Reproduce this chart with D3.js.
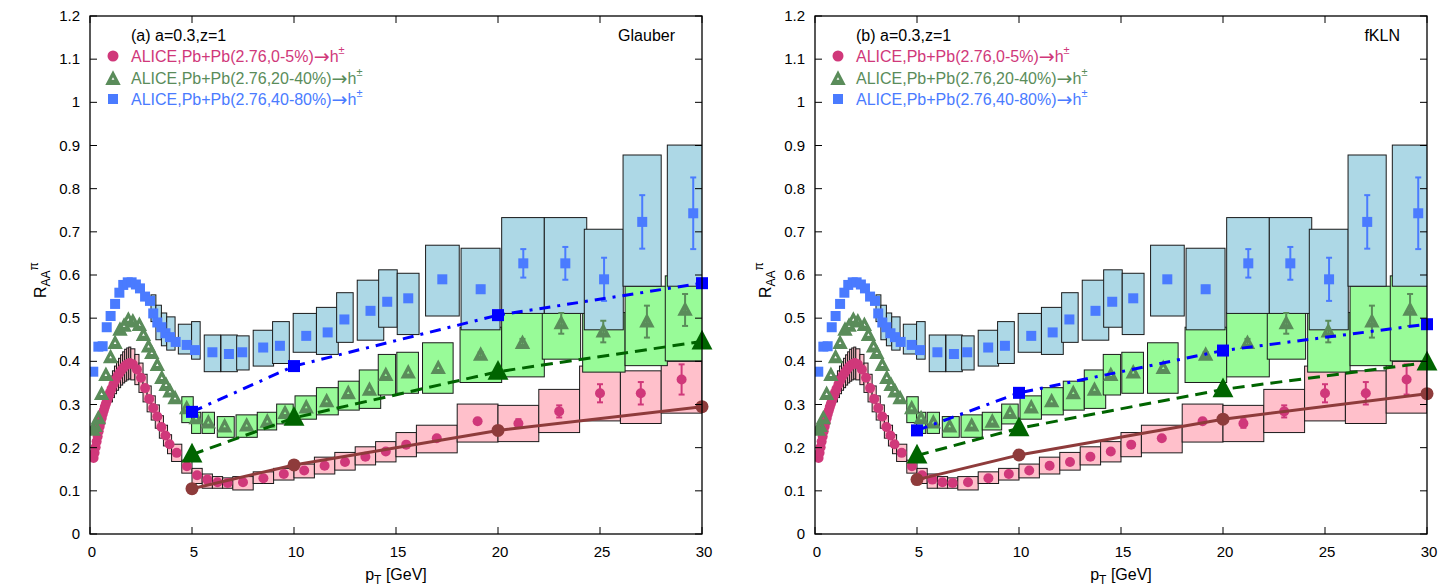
<!DOCTYPE html>
<html><head><meta charset="utf-8">
<script src="https://cdn.jsdelivr.net/npm/d3@7"></script>
<style>body{margin:0;background:#fff} svg{display:block} text{font-family:"Liberation Sans",Arial,Helvetica,sans-serif}</style>
</head><body><svg id="c" width="1453" height="587"></svg>
<script>
// ---------------- DATA ----------------
const xTicks = [0, 5, 10, 15, 20, 25, 30];
const yTicks = [0, 0.1, 0.2, 0.3, 0.4, 0.5, 0.6, 0.7, 0.8, 0.9, 1.0, 1.1, 1.2];
const yTickLabels = ["0","0.1","0.2","0.3","0.4","0.5","0.6","0.7","0.8","0.9","1","1.1","1.2"];

const panelTags = ["(a) a=0.3,z=1", "(b) a=0.3,z=1"];
const panelModels = ["Glauber", "fKLN"];
const legendLabels = ["ALICE,Pb+Pb(2.76,0-5%)", "ALICE,Pb+Pb(2.76,20-40%)", "ALICE,Pb+Pb(2.76,40-80%)"];

// ALICE 0-5% (markers)
const c05Pt = [0.175,0.225,0.275,0.325,0.375,0.425,0.475,0.525,0.575,0.625,0.675,0.725,0.775,0.825,0.875,0.925,0.975,
  1.05,1.15,1.25,1.35,1.45,1.55,1.65,1.75,1.85,1.95,
  2.1,2.3,2.5,2.7,2.9,3.1,3.3,3.5,3.7,3.9,
  4.25,4.75,5.25,5.75,6.25,6.75,
  7.5,8.5,9.5,10.5,11.5,12.5,13.5,14.5,15.5,
  17,19,21,23,25,27,29];
const c05Val = [0.176,0.188,0.201,0.214,0.226,0.238,0.249,0.259,0.269,0.278,0.286,0.294,0.301,0.308,0.315,0.321,0.327,
  0.336,0.347,0.357,0.366,0.373,0.380,0.386,0.391,0.394,0.396,
  0.393,0.381,0.362,0.338,0.313,0.292,0.272,0.248,0.228,0.208,
  0.188,0.157,0.136,0.126,0.120,0.118,
  0.120,0.129,0.139,0.147,0.158,0.167,0.179,0.191,0.207,
  0.222,0.261,0.256,0.284,0.326,0.326,0.358];
const c05Stat = [0,0,0,0,0,0,0,0,0,0,0,0,0,0,0,0,0, 0,0,0,0,0,0,0,0,0,0, 0,0,0,0,0,0,0,0,0,0, 0,0,0,0,0,0,
  0,0,0,0,0,0,0,0,0, 0,0.006,0.01,0.014,0.021,0.026,0.035];
// ALICE 0-5% systematic boxes
const c05BoxX0 = [1.0,1.1,1.2,1.3,1.4,1.5,1.6,1.7,1.8,1.9, 2.0,2.2,2.4,2.6,2.8,3.0,3.2,3.4,3.6,3.8, 4.0,4.5,5.0,5.5,6.0,6.5, 7,8,9,10,11,12,13,14,15, 16,18,20,22,24,26,28];
const c05BoxX1 = [1.1,1.2,1.3,1.4,1.5,1.6,1.7,1.8,1.9,2.0, 2.2,2.4,2.6,2.8,3.0,3.2,3.4,3.6,3.8,4.0, 4.5,5.0,5.5,6.0,6.5,7.0, 8,9,10,11,12,13,14,15,16, 18,20,22,24,26,28,30];
const c05BoxLo = [0.306,0.316,0.325,0.333,0.339,0.345,0.350,0.354,0.357,0.359, 0.357,0.346,0.328,0.306,0.283,0.264,0.245,0.222,0.204,0.186, 0.168,0.141,0.117,0.106,0.106,0.106, 0.102,0.117,0.125,0.130,0.139,0.148,0.160,0.167,0.179, 0.188,0.213,0.214,0.235,0.262,0.256,0.280];
const c05BoxHi = [0.366,0.378,0.389,0.399,0.407,0.415,0.422,0.428,0.431,0.433, 0.429,0.416,0.396,0.370,0.343,0.320,0.299,0.274,0.252,0.230, 0.208,0.171,0.152,0.139,0.133,0.130, 0.133,0.144,0.152,0.162,0.178,0.189,0.202,0.214,0.235, 0.252,0.301,0.298,0.335,0.389,0.378,0.400];

// ALICE 20-40% (markers)
const c2040Pt = [0.16,0.25,0.41,0.57,0.78,1.01,1.23,1.47,1.67,1.88,2.1,2.42,2.62,2.87,3.03,3.3,3.52,3.73,3.92,4.17,
  4.74,5.2,5.8,6.6,7.68,8.69,9.56,10.6,11.6,12.66,13.7,14.5,15.6,17.07,19.15,21.2,23.1,25.16,27.3,29.17];
const c2040Val = [0.241,0.25,0.268,0.324,0.368,0.409,0.442,0.473,0.482,0.496,0.492,0.484,0.461,0.434,0.419,0.391,0.361,0.345,0.330,0.314,
  0.291,0.268,0.258,0.249,0.251,0.260,0.280,0.293,0.307,0.326,0.334,0.368,0.374,0.384,0.415,0.442,0.488,0.469,0.492,0.519];
const c2040Stat = [0,0,0,0,0,0,0,0,0,0,0,0,0,0,0,0,0,0,0,0,
  0,0,0,0,0,0,0,0,0,0,0,0,0,0,0.006,0.01,0.024,0.025,0.037,0.037];
const c2040BoxX0 = [4.5,4.98,5.5,6.24,7.16,8.2,9.15,10.05,11.1,12.17,13.2,14.13,15.04,16.3,18.14,20.18,22.17,24.15,26.23,28.2];
const c2040BoxX1 = [5.06,5.43,6.1,7.07,8.2,9.15,9.96,11.1,12.17,13.2,14.25,14.98,16.1,17.8,20.18,22.27,24.05,26.23,28.3,30.14];
const c2040BoxLo = [0.258,0.233,0.233,0.224,0.224,0.241,0.255,0.266,0.276,0.287,0.291,0.322,0.326,0.326,0.351,0.364,0.405,0.375,0.390,0.401];
const c2040BoxHi = [0.318,0.282,0.282,0.272,0.276,0.282,0.301,0.320,0.339,0.354,0.380,0.416,0.421,0.443,0.479,0.513,0.513,0.513,0.574,0.598];

// ALICE 40-80% (markers)
const c4080Pt = [0.16,0.41,0.62,0.82,1.01,1.23,1.44,1.63,1.85,2.04,2.25,2.45,2.7,2.94,3.1,3.3,3.5,3.7,3.92,4.2,
  4.74,5.15,6.0,6.81,7.46,8.49,9.31,10.6,11.65,12.47,13.75,14.57,15.6,17.27,19.15,21.24,23.3,25.2,27.07,29.57];
const c4080Val = [0.376,0.434,0.435,0.479,0.505,0.533,0.559,0.577,0.583,0.583,0.578,0.569,0.550,0.540,0.511,0.490,0.479,0.465,0.456,0.445,
  0.438,0.426,0.421,0.417,0.421,0.432,0.436,0.459,0.467,0.497,0.517,0.538,0.546,0.590,0.567,0.627,0.627,0.590,0.723,0.743];
const c4080Stat = [0,0,0,0,0,0,0,0,0,0,0,0,0,0,0,0,0,0,0,0,
  0,0,0,0,0,0,0,0,0,0,0,0,0,0,0.008,0.033,0.038,0.05,0.062,0.083];
const c4080BoxX0 = [2.99,3.23,3.5,3.76,4.33,4.98,5.6,6.42,7.19,8.0,8.95,9.96,11.1,12.09,13.1,14.15,15.06,16.45,18.19,20.18,22.27,24.23,26.13,28.3];
const c4080BoxX1 = [3.23,3.5,3.76,4.17,4.98,5.4,6.4,7.22,7.8,9.0,9.77,11.1,12.17,12.9,14.4,15.06,16.13,18.1,20.1,22.27,24.35,26.14,28.0,30.84];
const c4080BoxLo = [0.492,0.450,0.436,0.426,0.417,0.405,0.376,0.376,0.380,0.389,0.395,0.421,0.416,0.444,0.449,0.479,0.462,0.505,0.473,0.511,0.511,0.473,0.574,0.574];
const c4080BoxHi = [0.554,0.530,0.512,0.503,0.486,0.492,0.461,0.461,0.459,0.472,0.492,0.511,0.525,0.559,0.588,0.612,0.604,0.669,0.662,0.733,0.733,0.706,0.878,0.901];

// Theory curves (a) Glauber, (b) fKLN
const thPt = [5, 10, 20, 30];
const thGlauber0005 = [0.105, 0.160, 0.240, 0.295];
const thGlauber2040 = [0.184, 0.269, 0.376, 0.446];
const thGlauber4080 = [0.283, 0.389, 0.507, 0.581];
const thKLN0005 = [0.126, 0.183, 0.266, 0.325];
const thKLN2040 = [0.182, 0.245, 0.335, 0.397];
const thKLN4080 = [0.240, 0.327, 0.425, 0.486];

// ---------------- STYLE ----------------
const colMag = "#d0387a", colGrn = "#5a8c5a", colBlu = "#4a7bff";
const boxPink = "#ffc0cb", boxGreen = "#98fb98", boxBlue = "#add8e6";
const thBrown = "#8e3b3b", thGreen = "#006400", thBlue = "#0000ff";

const svg = d3.select("#c");
const W = 612, yTop = 16, yBot = 534;
const panels = [
  {x0: 90, tag: panelTags[0], model: panelModels[0], th: [thGlauber0005, thGlauber2040, thGlauber4080]},
  {x0: 815, tag: panelTags[1], model: panelModels[1], th: [thKLN0005, thKLN2040, thKLN4080]}
];

const zip = (...arrs) => arrs[0].map((_, i) => arrs.map(a => a[i]));
const tri = s => `M0,${-s*0.62}L${s*0.55},${s*0.42}L${-s*0.55},${s*0.42}Z`;
// triangle with a tiny hole in the middle (evenodd)
const triHole = s => tri(s) + `M0,${-s*0.12}L${-s*0.1},${s*0.06}L${s*0.1},${s*0.06}Z`;

panels.forEach((p, pi) => {
  const x = d3.scaleLinear().domain([0, 30]).range([p.x0, p.x0 + W]);
  const y = d3.scaleLinear().domain([0, 1.2]).range([yBot, yTop]);
  const g = svg.append("g");
  const clipId = "clip" + pi;
  svg.append("clipPath").attr("id", clipId).append("rect")
    .attr("x", p.x0).attr("y", yTop).attr("width", W).attr("height", yBot - yTop);
  const plot = g.append("g").attr("clip-path", `url(#${clipId})`);

  function boxes(x0s, x1s, los, his, fill) {
    plot.append("g").selectAll("rect").data(zip(x0s, x1s, los, his)).join("rect")
      .attr("x", d => x(d[0])).attr("width", d => x(d[1]) - x(d[0]))
      .attr("y", d => y(d[3])).attr("height", d => y(d[2]) - y(d[3]))
      .attr("fill", fill).attr("stroke", "#1a1a1a").attr("stroke-width", 1);
  }
  boxes(c05BoxX0, c05BoxX1, c05BoxLo, c05BoxHi, boxPink);
  boxes(c2040BoxX0, c2040BoxX1, c2040BoxLo, c2040BoxHi, boxGreen);
  boxes(c4080BoxX0, c4080BoxX1, c4080BoxLo, c4080BoxHi, boxBlue);

  function errbars(pts, vals, errs, col) {
    const d = zip(pts, vals, errs).filter(e => e[2] > 0);
    const gg = plot.append("g").attr("stroke", col).attr("stroke-width", 2);
    gg.selectAll("line.v").data(d).join("line")
      .attr("x1", e => x(e[0])).attr("x2", e => x(e[0]))
      .attr("y1", e => y(e[1] - e[2])).attr("y2", e => y(e[1] + e[2]));
    gg.selectAll("line.t").data(d).join("line")
      .attr("x1", e => x(e[0]) - 3).attr("x2", e => x(e[0]) + 3)
      .attr("y1", e => y(e[1] + e[2])).attr("y2", e => y(e[1] + e[2]));
    gg.selectAll("line.b").data(d).join("line")
      .attr("x1", e => x(e[0]) - 3).attr("x2", e => x(e[0]) + 3)
      .attr("y1", e => y(e[1] - e[2])).attr("y2", e => y(e[1] - e[2]));
  }
  errbars(c05Pt, c05Val, c05Stat, colMag);
  errbars(c2040Pt, c2040Val, c2040Stat, colGrn);
  errbars(c4080Pt, c4080Val, c4080Stat, colBlu);

  plot.append("g").selectAll("circle").data(zip(c05Pt, c05Val)).join("circle")
    .attr("cx", d => x(d[0])).attr("cy", d => y(d[1])).attr("r", 5).attr("fill", colMag);
  plot.append("g").selectAll("path").data(zip(c2040Pt, c2040Val)).join("path")
    .attr("transform", d => `translate(${x(d[0])},${y(d[1])})`).attr("d", triHole(14))
    .attr("fill", colGrn).attr("fill-rule", "evenodd");
  plot.append("g").selectAll("rect").data(zip(c4080Pt, c4080Val)).join("rect")
    .attr("x", d => x(d[0]) - 5).attr("y", d => y(d[1]) - 5).attr("width", 10).attr("height", 10).attr("fill", colBlu);

  const line = d3.line().x(d => x(d[0])).y(d => y(d[1]));
  const thStyles = [
    {col: thBrown, dash: null},
    {col: thGreen, dash: "12,7"},
    {col: thBlue, dash: "11,7,3,7"}
  ];
  p.th.forEach((vals, k) => {
    plot.append("path").datum(zip(thPt, vals)).attr("d", line)
      .attr("fill", "none").attr("stroke", thStyles[k].col).attr("stroke-width", 3)
      .attr("stroke-dasharray", thStyles[k].dash);
  });
  const thm = g.append("g");
  thm.selectAll("circle").data(zip(thPt, p.th[0])).join("circle")
    .attr("cx", d => x(d[0])).attr("cy", d => y(d[1])).attr("r", 6.5).attr("fill", thBrown);
  thm.selectAll("path").data(zip(thPt, p.th[1])).join("path")
    .attr("transform", d => `translate(${x(d[0])},${y(d[1])})`).attr("d", tri(19)).attr("fill", thGreen);
  thm.selectAll("rect").data(zip(thPt, p.th[2])).join("rect")
    .attr("x", d => x(d[0]) - 6).attr("y", d => y(d[1]) - 6).attr("width", 12).attr("height", 12).attr("fill", thBlue);

  const ax = g.append("g").attr("stroke", "#000").attr("stroke-width", 1);
  ax.append("rect").attr("x", p.x0).attr("y", yTop).attr("width", W).attr("height", yBot - yTop)
    .attr("fill", "none").attr("stroke-width", 1.3);
  const tl = 7;
  xTicks.forEach(t => {
    ax.append("line").attr("x1", x(t)).attr("x2", x(t)).attr("y1", yBot).attr("y2", yBot - tl);
    ax.append("line").attr("x1", x(t)).attr("x2", x(t)).attr("y1", yTop).attr("y2", yTop + tl);
  });
  yTicks.forEach(t => {
    ax.append("line").attr("x1", p.x0).attr("x2", p.x0 + tl).attr("y1", y(t)).attr("y2", y(t));
    ax.append("line").attr("x1", p.x0 + W).attr("x2", p.x0 + W - tl).attr("y1", y(t)).attr("y2", y(t));
  });
  const lab = g.append("g").attr("font-size", 15).attr("fill", "#000");
  xTicks.forEach(t => lab.append("text").attr("x", x(t) + 2).attr("y", yBot + 23).attr("text-anchor", "middle").text(t));
  yTicks.forEach((t, i) => lab.append("text").attr("x", p.x0 - 10).attr("y", y(t) + 5).attr("text-anchor", "end").text(yTickLabels[i]));

  const xt = g.append("text").attr("x", p.x0 + W / 2).attr("y", 580).attr("text-anchor", "middle").attr("font-size", 16);
  xt.append("tspan").text("p");
  xt.append("tspan").attr("font-size", 12).attr("dy", 4).text("T");
  xt.append("tspan").attr("dy", -4).text(" [GeV]");
  const yt = g.append("text").attr("transform", `translate(${p.x0 - 44},${298}) rotate(-90)`).attr("font-size", 16);
  yt.append("tspan").text("R");
  yt.append("tspan").attr("font-size", 12).attr("dy", 4).text("AA");
  yt.append("tspan").attr("font-size", 12).attr("dy", -12).text("\u03c0");

  const lg = g.append("g").attr("font-size", 16);
  lg.append("text").attr("x", p.x0 + 41).attr("y", 41).text(p.tag);
  lg.append("text").attr("x", p.x0 + 585).attr("y", 41).attr("text-anchor", "end").text(p.model);
  const lcols = [colMag, colGrn, colBlu];
  const ly = [56, 78, 99];
  legendLabels.forEach((s, i) => {
    const t = lg.append("text").attr("x", p.x0 + 41).attr("y", ly[i] + 6).attr("fill", lcols[i]);
    t.append("tspan").text(s);
    t.append("tspan").attr("font-family", "DejaVu Sans").attr("font-size", 19).attr("dy", 1).text("\u2192");
    t.append("tspan").attr("dy", -1).text("h");
    t.append("tspan").attr("font-size", 11).attr("dy", -8).text("\u00b1");
  });
  lg.append("circle").attr("cx", p.x0 + 23).attr("cy", ly[0]).attr("r", 5.5).attr("fill", colMag);
  lg.append("path").attr("transform", `translate(${p.x0 + 23},${ly[1] + 1})`).attr("d", triHole(14))
    .attr("fill", colGrn).attr("fill-rule", "evenodd");
  lg.append("rect").attr("x", p.x0 + 18).attr("y", ly[2] - 5).attr("width", 10).attr("height", 10).attr("fill", colBlu);
});
</script></body></html>
